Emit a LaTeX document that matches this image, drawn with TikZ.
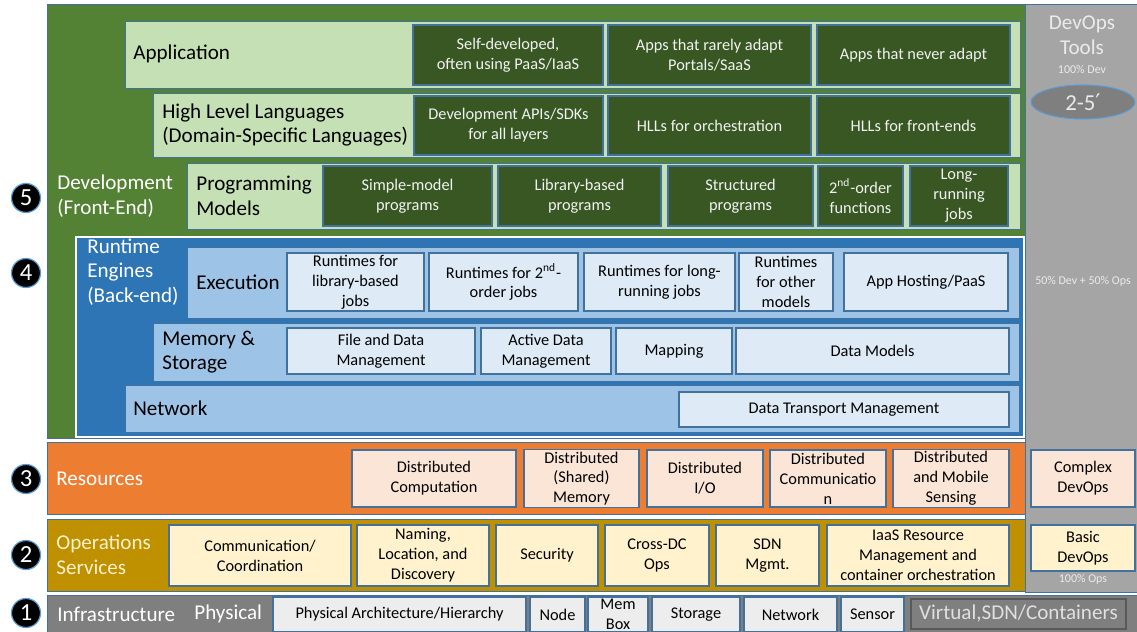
\documentclass[tikz,border=0pt]{standalone}
\usepackage{fontspec}
\setmainfont{Carlito}
\newfontfamily\primefont{DejaVu Sans}
\usetikzlibrary{shapes.geometric}

\definecolor{devgreen}{HTML}{548235}
\definecolor{palegreen}{HTML}{C5E0B4}
\definecolor{darkgreen}{HTML}{385723}
\definecolor{rtblue}{HTML}{2E75B6}
\definecolor{midblue}{HTML}{9DC3E6}
\definecolor{paleblue}{HTML}{DEEBF7}
\definecolor{resorange}{HTML}{ED7D31}
\definecolor{paleorange}{HTML}{FBE5D6}
\definecolor{opsgold}{HTML}{BF9000}
\definecolor{paleyellow}{HTML}{FFF2CC}
\definecolor{toolgray}{HTML}{A5A5A5}
\definecolor{infragray}{HTML}{7F7F7F}
\definecolor{palegray}{HTML}{EDEDED}
\definecolor{edge}{HTML}{41719C}
\definecolor{ringblue}{HTML}{5B9BD5}

% box from (x1,y1) to (x2,y2): name, style, x1, y1, x2, y2, text
\newcommand{\blk}[7]{%
  \node[#2, minimum width={(#5-#3)*0.02cm}, minimum height={(#6-#4)*0.02cm}]
    (#1) at ({(#3+#5)/2},{(#4+#6)/2}) {#7};}

\begin{document}
\begin{tikzpicture}[x=0.02cm, y=-0.02cm,
  sm/.style={font=\fontsize{9.3}{11.3}\selectfont},
  lg/.style={font=\fontsize{12}{14}\selectfont},
  tn/.style={font=\fontsize{6.8}{8}\selectfont, text=white!92!black},
  layer/.style={draw=edge, line width=0.5pt, inner sep=0pt},
  cell/.style={draw=edge, line width=0.6pt, inner sep=1pt, align=center, sm},
  devcell/.style={cell, fill=darkgreen, text=white!95!black},
  rtcell/.style={cell, fill=paleblue},
  rescell/.style={cell, fill=paleorange},
  opscell/.style={cell, fill=paleyellow},
  phycell/.style={cell, fill=palegray},
  lbl/.style={lg, anchor=west, align=left, inner sep=0pt},
  badge/.style={circle, fill=black, draw=ringblue, line width=0.7pt,
    minimum size=0.58cm, inner sep=0pt, text=white,
    font=\fontsize{14}{14}\selectfont}]
  \useasboundingbox (0,0) rectangle (1137,632);

  % Layers
  \blk{tools}{layer, fill=toolgray}{1025}{4}{1137}{592}{}
  \blk{dev}{layer, fill=devgreen}{47}{4}{1025}{438}{}
  \blk{rt}{fill=rtblue, draw=white, line width=1.6pt, inner sep=0pt}{76}{237}{1024}{437}{}
  \blk{app}{layer, fill=palegreen}{125}{21}{1020}{88}{}
  \blk{hll}{layer, fill=palegreen}{153}{93}{1020}{157}{}
  \blk{pm}{layer, fill=palegreen}{187}{163}{1020}{229}{}
  \blk{exec}{layer, fill=midblue}{187}{247}{1019}{318}{}
  \blk{mem}{layer, fill=midblue}{153}{323}{1019}{381}{}
  \blk{net}{layer, fill=midblue}{125}{385}{1019}{432}{}
  \blk{res}{layer, fill=resorange}{47}{442}{1025}{514}{}
  \blk{ops}{layer, fill=opsgold}{47}{519}{1025}{591}{}
  \blk{infra}{layer, fill=infragray}{47}{595}{1137}{632}{}

  % Layer labels
  \node[lbl] (applbl) at (133,54) {Application};
  \node[lbl] (hlllbl) at (162,125) {High Level Languages\\(Domain-Specific Languages)};
  \node[lbl] (pmlbl) at (196,196) {Programming\\Models};
  \node[lbl, text=white] (devlbl) at (57,196) {Development\\(Front-End)};
  \node[lbl, text=white] (rtlbl) at (87,272) {Runtime\\Engines\\(Back-end)};
  \node[lbl] (execlbl) at (196,282) {Execution};
  \node[lbl] (memlbl) at (162,352) {Memory \&\\Storage};
  \node[lbl] (netlbl) at (133,408) {Network};
  \node[lbl, text=white] (reslbl) at (56,479) {Resources};
  \node[lbl, text=paleyellow] (opslbl) at (56,555) {Operations\\Services};
  \node[lbl, text=white] (infralbl) at (57,614) {Infrastructure};
  \node[lbl, text=white] (physlbl) at (194,614) {Physical};

  % Development cells
  \blk{selfdev}{devcell}{413}{25}{603}{85}{Self-developed,\\often using PaaS/IaaS}
  \blk{rarely}{devcell}{608}{25}{811}{85}{Apps that rarely adapt\\Portals/SaaS}
  \blk{never}{devcell}{817}{25}{1010}{85}{Apps that never adapt}
  \blk{apis}{devcell}{414}{96}{603}{155}{Development APIs/SDKs\\for all layers}
  \blk{orch}{devcell}{608}{96}{811}{155}{HLLs for orchestration}
  \blk{front}{devcell}{817}{96}{1010}{155}{HLLs for front-ends}
  \blk{simple}{devcell}{323}{166}{492}{226}{Simple-model\\programs}
  \blk{libbased}{devcell}{498}{166}{661}{226}{Library-based\\programs}
  \blk{structured}{devcell}{668}{166}{813}{226}{Structured\\programs}
  \blk{second}{devcell}{818}{166}{903}{226}{2\textsuperscript{nd}-order\\functions}
  \blk{longrun}{devcell}{910}{166}{1008}{226}{Long-\\running\\jobs}

  % Runtime cells
  \blk{rtlib}{rtcell}{287}{253}{424}{311}{Runtimes for\\library-based\\jobs}
  \blk{rtsecond}{rtcell}{429}{253}{578}{311}{Runtimes for 2\textsuperscript{nd}-\\order jobs}
  \blk{rtlong}{rtcell}{584}{253}{735}{311}{Runtimes for long-\\running jobs}
  \blk{rtother}{rtcell}{739}{253}{833}{311}{Runtimes\\for other\\models}
  \blk{hosting}{rtcell}{844}{253}{1008}{311}{App Hosting/PaaS}
  \blk{filedata}{rtcell}{287}{328}{475}{374}{File and Data\\Management}
  \blk{active}{rtcell}{481}{328}{611}{374}{Active Data\\Management}
  \blk{mapping}{rtcell}{616}{328}{732}{374}{Mapping}
  \blk{datamodels}{rtcell}{736}{328}{1009}{374}{Data Models}
  \blk{transport}{rtcell}{679}{392}{1009}{427}{Data Transport Management}

  % Resources cells
  \blk{dcomp}{rescell}{352}{450}{516}{507}{Distributed\\Computation}
  \blk{dmem}{rescell}{524}{450}{639}{507}{Distributed\\(Shared)\\Memory}
  \blk{dio}{rescell}{647}{450}{763}{507}{Distributed\\I/O}
  \blk{dcomm}{rescell}{770}{450}{886}{507}{Distributed\\Communicatio\\n}
  \blk{dsense}{rescell}{893}{450}{1009}{507}{Distributed\\and Mobile\\Sensing}

  % Operations cells
  \blk{coord}{opscell}{169}{525}{351}{586}{Communication/\\Coordination}
  \blk{naming}{opscell}{357}{525}{489}{586}{Naming,\\Location, and\\Discovery}
  \blk{security}{opscell}{496}{525}{598}{586}{Security}
  \blk{crossdc}{opscell}{605}{525}{709}{586}{Cross-DC\\Ops}
  \blk{sdn}{opscell}{716}{525}{819}{586}{SDN\\Mgmt.}
  \blk{iaas}{opscell}{827}{525}{1009}{586}{IaaS Resource\\Management and\\container orchestration}

  % Infrastructure cells
  \blk{arch}{phycell}{273}{597}{526}{632}{Physical Architecture/Hierarchy}
  \blk{nodebox}{phycell}{530}{597}{585}{632}{Node}
  \blk{membox}{phycell}{588}{597}{648}{632}{Mem\\Box}
  \blk{storage}{phycell}{652}{597}{740}{632}{Storage}
  \blk{netbox}{phycell}{744}{597}{837}{632}{Network}
  \blk{sensor}{phycell}{841}{597}{904}{632}{Sensor}
  \blk{virtual}{cell, lg, fill=infragray, draw=infragray!70!black, text=white!88!black}{911}{599}{1126}{629}{Virtual,SDN/Containers}

  % DevOps column
  \node[lg, align=center, text=white!92!black] (toolslbl) at (1082,35) {DevOps\\Tools};
  \node[tn] (devpct) at (1082,69) {100\% Dev};
  \node[ellipse, fill=infragray, draw=ringblue, line width=0.6pt,
    minimum width=2.08cm, minimum height=0.68cm, inner sep=0pt,
    text=white!92!black, font=\fontsize{13}{14}\selectfont] (span) at (1083,102) {2-5{\primefont ′}};
  \node[tn] (mixpct) at (1083,281) {50\% Dev + 50\% Ops};
  \blk{complex}{rescell}{1031}{450}{1135}{507}{Complex\\DevOps}
  \blk{basic}{opscell}{1031}{525}{1135}{571}{Basic\\DevOps}
  \node[tn] (opspct) at (1083,579) {100\% Ops};

  % Level badges
  \foreach \n/\y in {5/198,4/273,3/479,2/555,1/613}
    \node[badge] (badge\n) at (26,\y) {\n};
\end{tikzpicture}
\end{document}
